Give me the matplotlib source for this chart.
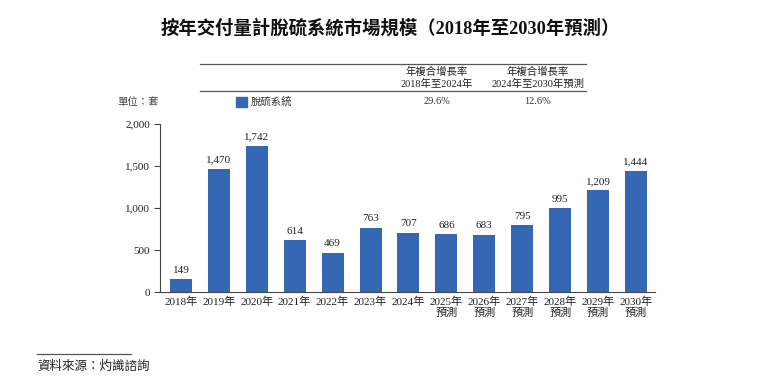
import matplotlib
matplotlib.use("Agg")
import matplotlib.pyplot as plt
from matplotlib.lines import Line2D
from matplotlib.patches import Rectangle

plt.rcParams['font.family'] = ['Liberation Serif', 'Noto Sans CJK TC', 'DejaVu Sans']

years = ["2018年", "2019年", "2020年", "2021年", "2022年", "2023年", "2024年",
         "2025年\n預測", "2026年\n預測", "2027年\n預測", "2028年\n預測", "2029年\n預測", "2030年\n預測"]
values = [149, 1470, 1742, 614, 469, 763, 707, 686, 683, 795, 995, 1209, 1444]
yticks = [0, 500, 1000, 1500, 2000]
series_name = "脫硫系統"
cagr_headers = ["年複合增長率\n2018年至2024年", "年複合增長率\n2024年至2030年預測"]
cagr_values = ["29.6%", "12.6%"]
title = "按年交付量計脫硫系統市場規模（2018年至2030年預測）"
unit = "單位：套"
source = "資料來源：灼識諮詢"

W, H = 764, 385
fig = plt.figure(figsize=(W / 100, H / 100), dpi=100)
color = "#3567B5"

def fx(px):
    return px / W

def fy(py):
    return 1 - py / H

ax = fig.add_axes([fx(160), fy(292), fx(655) - fx(160), fy(124) - fy(292)])
x = list(range(len(values)))
bars = ax.bar(x, values, width=0.58, color=color)
for xi, v in zip(x, values):
    ax.text(xi, v + 55, f"{v:,}", ha="center", va="bottom", fontsize=8, color="#222222")
ax.set_xlim(-0.55, 12.5)
ax.set_ylim(0, 2000)
ax.set_yticks(yticks)
ax.set_yticklabels([f"{t:,}" for t in yticks], fontsize=8, color="#222222")
ax.set_xticks(x)
ax.set_xticklabels(years, fontsize=8, color="#222222", linespacing=1.1)
ax.tick_params(axis="x", length=0, pad=3)
ax.tick_params(axis="y", length=4, width=0.8, color="#444444", pad=3)
for s in ["top", "right"]:
    ax.spines[s].set_visible(False)
ax.spines["left"].set_color("#444444")
ax.spines["bottom"].set_color("#444444")
ax.spines["left"].set_linewidth(0.8)
ax.spines["bottom"].set_linewidth(0.8)

# Title
fig.text(fx(390), fy(28), title, ha="center", va="center", fontsize=13.2, fontweight="bold", color="#111111")

# CAGR table
fig.add_artist(Line2D([fx(200), fx(586)], [fy(64), fy(64)], color="#555555", lw=0.9))
fig.add_artist(Line2D([fx(200), fx(586)], [fy(91), fy(91)], color="#555555", lw=0.9))
for cx, hdr, val in zip([437, 538], cagr_headers, cagr_values):
    fig.text(fx(cx), fy(78), hdr, ha="center", va="center", fontsize=7.5, color="#222222", linespacing=1.25)
    fig.text(fx(cx), fy(102), val, ha="center", va="center", fontsize=7.5, color="#333333")

fig.text(fx(117), fy(102), unit, ha="left", va="center", fontsize=7.5, color="#444444", style="italic")
fig.add_artist(Rectangle((fx(236), fy(107)), fx(11), fy(97) - fy(107), color=color))
fig.text(fx(251), fy(102), series_name, ha="left", va="center", fontsize=7.5, color="#333333")

# Source
fig.add_artist(Line2D([fx(37), fx(131)], [fy(354), fy(354)], color="#555555", lw=0.9))
fig.text(fx(37), fy(367), source, ha="left", va="center", fontsize=9, color="#222222", style="italic")

fig.savefig("out.png", dpi=100)
